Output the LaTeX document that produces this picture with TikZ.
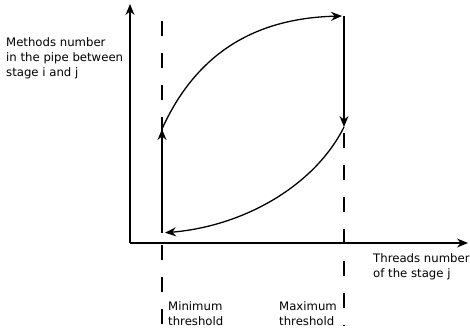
\documentclass[tikz,border=0pt]{standalone}
\usepackage{fontspec}
\setmainfont{DejaVu Sans}
\usetikzlibrary{arrows.meta}

\begin{document}
\begin{tikzpicture}[x=1pt, y=-1pt,
      axis/.style={-{Stealth[length=11pt,width=9pt]}, line width=1.3pt},
      flow/.style={-{Stealth[length=11pt,width=9pt]}, line width=1.3pt},
      limit/.style={line width=1.3pt, dash pattern=on 15pt off 17pt},
      lbl/.style={align=left, anchor=base west, inner sep=0pt, font=\fontsize{11.7}{14.6}\selectfont}]
    \useasboundingbox (0,0) rectangle (470,333);
    \coordinate (o) at (130,243);
    \coordinate (ytop) at (130,4);
    \coordinate (xend) at (468,243);
    \coordinate (mintop) at (162,21);
    \coordinate (minbot) at (162,326);
    \coordinate (maxtop) at (344,133);
    \coordinate (maxbot) at (344,326);
    \coordinate (lowmin) at (162,233);
    \coordinate (highmin) at (162,129);
    \coordinate (highmax) at (342,16);
    \coordinate (maxstart) at (344,16);
    \coordinate (lowmax) at (344,127);
    \draw[axis] (o) -- (ytop);
    \draw[axis] (o) -- (xend);
    \draw[limit] (mintop) -- (minbot);
    \draw[limit] (maxtop) -- (maxbot);
    \draw[flow] (lowmin) -- (highmin);
    \draw[flow] (highmin) .. controls (200,45) and (265,18) .. (highmax);
    \draw[flow] (maxstart) -- (lowmax);
    \draw[flow, shorten >=3pt] (lowmax) .. controls (315,185) and (245,226) .. (lowmin);
    % base anchor sits on the last line
    \node[lbl] (ylabel) at (6,76) {Methods number\\in the pipe between\\stage i and j};
    \node[lbl] (xlabel) at (373,277) {Threads number\\of the stage j};
    \node[lbl] (minlabel) at (168,325) {Minimum\\threshold};
    \node[lbl] (maxlabel) at (279,325) {Maximum\\threshold};
  \end{tikzpicture}
\end{document}
